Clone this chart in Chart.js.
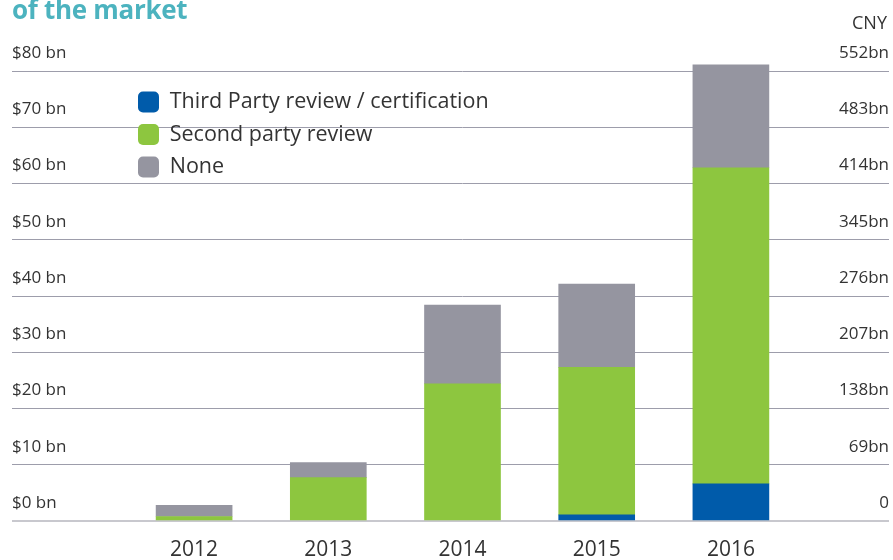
<!DOCTYPE html>
<html>
<head>
<meta charset="utf-8">
<script src="https://cdn.jsdelivr.net/npm/chart.js@4/dist/chart.umd.min.js"></script>
<style>
  html, body { margin: 0; padding: 0; background: #fff; }
  #wrap { position: relative; width: 893px; height: 560px; overflow: hidden; }
  #title { position: absolute; left: 12px; top: -4px; font: 700 26px 'Open Sans', sans-serif; color: #4cb3bf; line-height: 26px; letter-spacing: -0.3px; }
  #cny { position: absolute; right: 6px; top: 10px; font: 400 18px 'Open Sans', sans-serif; color: #333; line-height: 24px; }
</style>
</head>
<body>
<div id="wrap">
  <canvas id="chart" width="893" height="560"></canvas>
  <div id="title">of the market</div>
  <div id="cny">CNY</div>
</div>
<script>
const years = ['2012', '2013', '2014', '2015', '2016'];
const thirdParty = [null, null, null, 1.1, 6.6];
const secondParty = [0.8, 7.7, 24.4, 26.2, 56.2];
const noReview = [2.0, 2.7, 14.0, 14.8, 18.3];
const usdLabels = ['$0 bn', '$10 bn', '$20 bn', '$30 bn', '$40 bn', '$50 bn', '$60 bn', '$70 bn', '$80 bn'];
const cnyLabels = ['0', '69bn', '138bn', '207bn', '276bn', '345bn', '414bn', '483bn', '552bn'];

const GRID = '#9d9dab';
const BASE = '#c8c8ce';
const TEXT = '#333333';

Chart.defaults.font.family = "'Open Sans', sans-serif";
Chart.defaults.color = TEXT;

const gridColor = (ctx) => (ctx.tick && ctx.tick.value === 0 ? BASE : GRID);
const gridWidth = (ctx) => (ctx.tick && ctx.tick.value === 0 ? 2 : 1);

new Chart(document.getElementById('chart'), {
  type: 'bar',
  data: {
    labels: years,
    datasets: [
      { label: 'Third Party review / certification', data: thirdParty, backgroundColor: '#005baa' },
      { label: 'Second party review', data: secondParty, backgroundColor: '#8dc63f' },
      { label: 'None', data: noReview, backgroundColor: '#9595a0' },
    ].map((d) => ({ ...d, borderWidth: 0, barThickness: 76, clip: false })),
  },
  options: {
    responsive: false,
    animation: false,
    layout: { padding: { top: 71, left: 12, right: 4, bottom: 0 } },
    plugins: {
      tooltip: { enabled: false },
      legend: {
        position: 'chartArea',
        align: 'start',
        // the legend box starts at the canvas top, push it down into the plot
        title: { display: true, text: '', font: { size: 1 }, padding: { top: 0, bottom: 79 } },
        labels: {
          boxWidth: 21,
          boxHeight: 21,
          padding: 11,
          useBorderRadius: true,
          borderRadius: 5,
          color: TEXT,
          font: { size: 21.5 },
        },
      },
    },
    scales: {
      x: {
        stacked: true,
        grid: { display: false, drawTicks: false },
        border: { display: false },
        ticks: { padding: 16, font: { size: 21 }, color: TEXT },
        afterFit: (s) => { s.height = 39; },
      },
      y: {
        stacked: true,
        position: 'left',
        min: 0,
        max: 80,
        ticks: {
          stepSize: 10,
          crossAlign: 'far',
          labelOffset: -18,
          padding: 0,
          font: { size: 17 },
          color: TEXT,
          callback: (v, i) => usdLabels[i],
        },
        grid: { color: gridColor, lineWidth: gridWidth, tickLength: 115, drawTicks: true },
        border: { display: false },
        afterFit: (s) => { s.width = 115; },
      },
      y2: {
        position: 'right',
        min: 0,
        max: 552,
        ticks: {
          stepSize: 69,
          crossAlign: 'far',
          labelOffset: -18,
          padding: 0,
          font: { size: 17 },
          color: TEXT,
          callback: (v, i) => cnyLabels[i],
        },
        grid: { color: gridColor, lineWidth: gridWidth, tickLength: 91, drawTicks: true, drawOnChartArea: false },
        border: { display: false },
        afterFit: (s) => { s.width = 91; },
      },
    },
  },
});
</script>
</body>
</html>
